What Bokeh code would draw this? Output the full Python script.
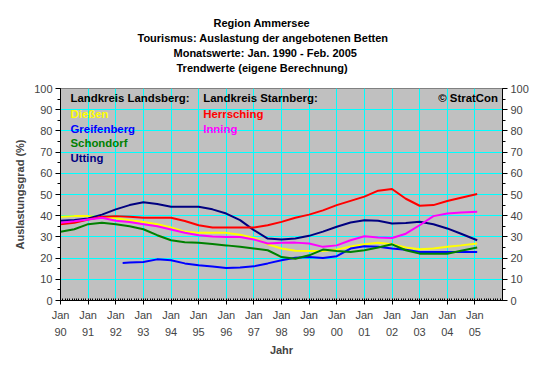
from bokeh.plotting import figure
from bokeh.models import (Range1d, LinearAxis, FixedTicker, SingleIntervalTicker,
                          Title, Label)
from bokeh.embed import file_html
from bokeh.resources import INLINE

# ---- data (months since Jan 1990, occupancy %) ----
year_labels = ["90", "91", "92", "93", "94", "95", "96", "97", "98", "99",
               "00", "01", "02", "03", "04", "05"]

diessen_m = [0, 6, 12, 18, 24, 30, 36, 42, 48, 54, 60, 66, 72, 78, 84, 90, 96, 102,
             108, 114, 120, 126, 132, 138, 144, 150, 156, 162, 168, 174, 181]
diessen_v = [39.5, 39.8, 39.8, 39.5, 38.8, 37.9, 37.0, 36.0, 34.5, 32.5, 31.9, 31.9,
             31.9, 31.0, 29.5, 26.5, 24.5, 23.5, 23.4, 23.4, 24.0, 25.5, 26.5, 27.2,
             26.5, 25.0, 24.2, 24.5, 25.3, 26.0, 26.9]

greifenberg_m = [27, 30, 36, 42, 48, 54, 60, 66, 72, 78, 84, 90, 96, 102, 108, 114,
                 120, 126, 132, 138, 144, 150, 156, 162, 168, 174, 181]
greifenberg_v = [17.7, 17.9, 18.2, 19.4, 19.0, 17.5, 16.6, 16.0, 15.3, 15.6, 16.1,
                 17.5, 19.0, 20.2, 20.5, 20.0, 20.9, 24.5, 25.6, 25.3, 24.5, 23.9,
                 22.9, 22.9, 22.9, 22.9, 22.9]

schondorf_m = diessen_m
schondorf_v = [32.4, 33.6, 36.0, 36.7, 36.0, 35.0, 33.6, 30.8, 28.4, 27.5, 27.2, 26.6,
               26.0, 25.3, 24.5, 23.7, 20.5, 19.7, 21.3, 24.0, 23.4, 22.9, 23.7, 25.0,
               26.5, 23.7, 22.1, 22.1, 22.1, 23.5, 25.0]

utting_m = diessen_m
utting_v = [37.6, 38.0, 38.7, 40.5, 43.0, 45.0, 46.3, 45.5, 44.2, 44.2, 44.2, 43.0,
            41.0, 37.9, 33.2, 29.2, 28.8, 29.2, 30.5, 32.5, 34.8, 36.8, 37.9, 37.6,
            36.3, 36.5, 37.1, 36.0, 34.0, 31.5, 28.4]

herrsching_m = diessen_m
herrsching_v = [36.0, 36.7, 38.2, 39.5, 39.8, 39.5, 39.0, 39.0, 39.0, 37.5, 35.5, 34.4,
                34.4, 34.4, 34.4, 35.5, 37.1, 39.0, 40.5, 42.5, 45.0, 47.0, 49.0, 51.8,
                52.6, 48.0, 44.7, 45.0, 46.9, 48.5, 50.2]

inning_m = diessen_m
inning_v = [36.7, 37.4, 38.2, 39.0, 37.6, 37.0, 36.0, 35.0, 33.5, 32.0, 30.8, 30.2,
            30.0, 30.0, 28.8, 26.9, 27.2, 27.3, 26.9, 25.3, 26.0, 28.4, 30.3, 29.7,
            29.5, 31.5, 35.5, 39.8, 41.0, 41.5, 41.9]

titles = ["Region Ammersee",
          "Tourismus: Auslastung der angebotenen Betten",
          "Monatswerte: Jan. 1990 - Feb. 2005",
          "Trendwerte (eigene Berechnung)"]
title_offsets = [153, 77, 113, 116]

FONT = "Liberation Sans"

p = figure(width=544, height=358, output_backend="svg", toolbar_location=None,
           title=None, x_range=Range1d(0, 192), y_range=Range1d(0, 100),
           min_border_left=60, min_border_right=42, min_border_top=88,
           min_border_bottom=58)
p.background_fill_color = "#C0C0C0"
p.border_fill_color = "white"
p.outline_line_color = "#808080"

# spacer between frame and titles
p.add_layout(Title(text=" ", text_font_size="1px", standoff=11), "above")
# titles (later added -> further from plot)
for t, off in reversed(list(zip(titles, title_offsets))):
    p.add_layout(Title(text=t, align="left", offset=off, text_font=FONT,
                       text_font_size="11px", text_font_style="bold",
                       text_color="black", standoff=1), "above")

# x axis
xticks = [12 * i for i in range(len(year_labels))]
p.xaxis.ticker = FixedTicker(ticks=xticks, minor_ticks=list(range(0, 193)))
p.xaxis.major_label_overrides = {12 * i: "Jan\n" + y for i, y in enumerate(year_labels)}
p.xaxis.axis_label = "Jahr"
xa = p.xaxis[0]
xa.axis_label_text_font = FONT
xa.axis_label_text_font_size = "11px"
xa.axis_label_text_font_style = "bold"
xa.axis_label_standoff = 3
xa.major_label_text_font = FONT
xa.major_label_text_font_size = "11px"
xa.major_label_text_line_height = 1.45
xa.major_label_standoff = 4
xa.major_tick_in = 0
xa.major_tick_out = 4
xa.minor_tick_in = 2
xa.minor_tick_out = 0
xa.axis_line_color = "black"
xa.major_tick_line_color = "black"
xa.minor_tick_line_color = "black"

# y axes
p.yaxis.ticker = SingleIntervalTicker(interval=10, num_minor_ticks=2)
p.yaxis.axis_label = "Auslastungsgrad (%)"
ya = p.yaxis[0]
ya.axis_label_text_font = FONT
ya.axis_label_text_font_size = "11px"
ya.axis_label_text_font_style = "bold"
ya.axis_label_standoff = 5

ra = LinearAxis(ticker=SingleIntervalTicker(interval=10, num_minor_ticks=2))
p.add_layout(ra, "right")
for ax in (ya, ra):
    ax.major_label_text_font = FONT
    ax.major_label_text_font_size = "11px"
    ax.major_label_standoff = 3
    ax.major_tick_in = 0
    ax.major_tick_out = 5
    ax.minor_tick_in = 0
    ax.minor_tick_out = 3
    ax.axis_line_color = "black"
    ax.major_tick_line_color = "black"
    ax.minor_tick_line_color = "black"

p.xgrid.grid_line_color = "#00FFFF"
p.ygrid.grid_line_color = "#00FFFF"
p.xgrid.grid_line_width = 1
p.ygrid.grid_line_width = 1

series = [
    (diessen_m, diessen_v, "#FFFF00"),
    (greifenberg_m, greifenberg_v, "#0000FF"),
    (schondorf_m, schondorf_v, "#008000"),
    (utting_m, utting_v, "#000080"),
    (herrsching_m, herrsching_v, "#FF0000"),
    (inning_m, inning_v, "#FF00FF"),
]
for m, v, c in series:
    p.line(m, v, line_color=c, line_width=2)

# in-plot legend texts
legend_items = [
    ("Landkreis Landsberg:", 4.35, 95.3, "black", "left"),
    ("Dießen", 4.35, 88.2, "#FFFF00", "left"),
    ("Greifenberg", 4.35, 81.1, "#0000FF", "left"),
    ("Schondorf", 4.35, 74.1, "#008000", "left"),
    ("Utting", 4.35, 67.0, "#000080", "left"),
    ("Landkreis Starnberg:", 62.0, 95.3, "black", "left"),
    ("Herrsching", 62.0, 88.2, "#FF0000", "left"),
    ("Inning", 62.0, 81.1, "#FF00FF", "left"),
    ("© StratCon", 190.0, 95.3, "black", "right"),
]
for txt, x, y, c, al in legend_items:
    p.add_layout(Label(x=x, y=y, text=txt, text_color=c, text_font=FONT,
                       text_font_size="11.4px", text_font_style="bold",
                       text_align=al, text_baseline="middle"))

open("out.html", "w").write(file_html(p, INLINE))
